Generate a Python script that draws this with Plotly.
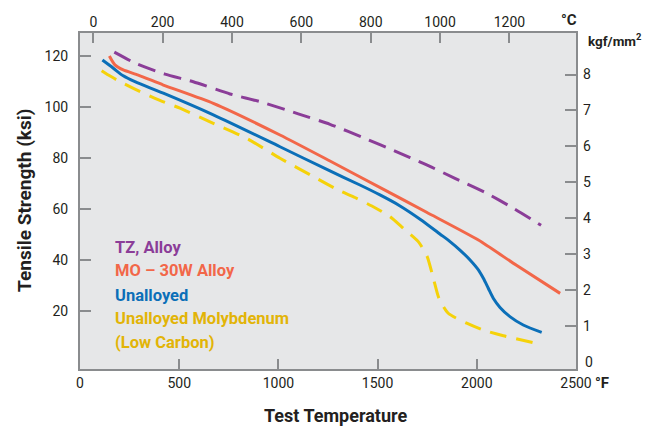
import plotly.graph_objects as go

# ---------------- data ----------------
tz_temp_f = [173, 286, 428, 571, 756, 907, 1100, 1260, 1436, 1588, 1739, 1890, 2041, 2184, 2324]
tz_ksi = [121.5, 116.9, 112.9, 109.9, 105.1, 102.1, 97.3, 93.2, 87.7, 82.7, 77.6, 72.0, 66.5, 60.3, 53.6]

mo30w_temp_f = [148, 176, 218, 294, 420, 672, 1008, 1260, 1537, 1747, 2008, 2200, 2420]
mo30w_ksi = [120.0, 116.5, 114.5, 112.5, 108.6, 101.4, 89.0, 78.8, 67.4, 58.7, 47.8, 37.9, 26.9]

unalloyed_temp_f = [113, 168, 218, 277, 420, 672, 1008, 1260, 1411, 1512, 1613, 1714, 1814, 1865, 1915,
                    1966, 2008, 2033, 2058, 2083, 2117, 2167, 2234, 2327]
unalloyed_ksi = [118.4, 115.2, 112.2, 109.9, 105.4, 96.9, 84.4, 74.9, 69.4, 65.5, 61.2, 56.0, 50.2, 47.2, 43.9,
                 40.0, 36.1, 32.8, 28.9, 25.0, 21.4, 17.8, 14.5, 11.6]

lowc_temp_f = [109, 143, 202, 269, 387, 504, 672, 840, 1008, 1176, 1310, 1386, 1487, 1562, 1630, 1705,
               1750, 1781, 1809, 1856, 1949, 2033, 2134, 2310]
lowc_ksi = [114.2, 112.5, 109.9, 107.3, 103.1, 99.5, 93.6, 87.7, 79.9, 72.7, 67.1, 64.5, 60.5, 57.0, 52.4,
            47.2, 41.3, 32.8, 25.0, 19.1, 15.2, 12.5, 10.3, 7.1]

series_names = ["TZ, Alloy", "MO \u2013 30W Alloy", "Unalloyed", "Unalloyed Molybdenum", "(Low Carbon)"]

f_ticks = [0, 500, 1000, 1500, 2000, 2500]
c_ticks = [0, 200, 400, 600, 800, 1000, 1200]
ksi_ticks = [20, 40, 60, 80, 100, 120]
kgf_ticks = [1, 2, 3, 4, 5, 6, 7, 8]

# ---------------- style ----------------
FONT = "Roboto, DejaVu Sans Condensed, sans-serif"
TXT = "#231f20"
AXC = "#8a8c8e"
PURPLE = "#8b3d98"
ORANGE = "#f26749"
BLUE = "#0b6fb8"
YELLOW = "#f5d20a"
YELLOW_TXT = "#e2b407"
PLOT_BG = "#e6e7e8"

fig = go.Figure()

fig.add_trace(go.Scatter(x=tz_temp_f, y=tz_ksi, mode="lines",
                         line=dict(color=PURPLE, width=3, dash="18px,9px", shape="spline", smoothing=0.6)))
fig.add_trace(go.Scatter(x=mo30w_temp_f, y=mo30w_ksi, mode="lines",
                         line=dict(color=ORANGE, width=3, shape="spline", smoothing=0.6)))
fig.add_trace(go.Scatter(x=unalloyed_temp_f, y=unalloyed_ksi, mode="lines",
                         line=dict(color=BLUE, width=3, shape="spline", smoothing=0.8)))
fig.add_trace(go.Scatter(x=lowc_temp_f, y=lowc_ksi, mode="lines",
                         line=dict(color=YELLOW, width=3, dash="17px,10px", shape="spline", smoothing=0.6)))

# invisible trace to activate the secondary (°C / kgf/mm²) axes
fig.add_trace(go.Scatter(x=[0], y=[0], xaxis="x2", yaxis="y2", mode="markers",
                         marker=dict(opacity=0), hoverinfo="skip"))

tickfont = dict(family=FONT, size=14, color=TXT)

common = dict(showgrid=False, zeroline=False, automargin=False, tickcolor=AXC, tickwidth=1.5,
              ticks="inside", tickfont=tickfont)

# the page body adds an 8px margin, so the figure is 8px smaller and margins shifted
fig.update_layout(
    width=645, height=421,
    margin=dict(l=72, r=77, t=25, b=60, autoexpand=False),
    paper_bgcolor="white",
    plot_bgcolor=PLOT_BG,
    showlegend=False,
    xaxis=dict(range=[0, 2500], tickvals=f_ticks, ticklen=10, showline=True, linecolor=AXC,
               linewidth=2, mirror=True, **common),
    yaxis=dict(range=[-2.75, 129.0], tickvals=ksi_ticks, ticklen=11, showline=True, linecolor=AXC,
               linewidth=2, mirror=True, ticklabelstandoff=7, **common),
    xaxis2=dict(range=[-38.4, 1392], tickvals=c_ticks, overlaying="x", side="top",
                ticklen=10, showline=False, ticklabelstandoff=2, **common),
    yaxis2=dict(range=[-0.203, 9.156], tickvals=kgf_ticks, overlaying="y", side="right",
                ticklen=11, showline=False, ticklabelstandoff=6, **common),
)

ann = []
legend_colors = [PURPLE, ORANGE, BLUE, YELLOW_TXT, YELLOW_TXT]
legend_y = [0.362, 0.292, 0.220, 0.149, 0.080]
for name, col, yy in zip(series_names, legend_colors, legend_y):
    ann.append(dict(text="<b>%s</b>" % name, x=0.066, y=yy, xref="paper", yref="paper",
                    xanchor="left", yanchor="middle", showarrow=False,
                    font=dict(family=FONT, size=16.5, color=col)))

ann.append(dict(text="<b>Test Temperature</b>", x=0.516, y=-0.137, xref="paper", yref="paper",
                xanchor="center", yanchor="middle", showarrow=False,
                font=dict(family=FONT, size=18, color=TXT)))
ann.append(dict(text="<b>Tensile Strength (ksi)</b>", x=-0.111, y=0.503, xref="paper", yref="paper",
                xanchor="center", yanchor="middle", showarrow=False, textangle=-90,
                font=dict(family=FONT, size=19, color=TXT)))
ann.append(dict(text="<b>kgf/mm<sup>2</sup></b>", x=1.078, y=0.979, xref="paper", yref="paper",
                xanchor="center", yanchor="middle", showarrow=False,
                font=dict(family=FONT, size=13.5, color=TXT)))
ann.append(dict(text="<b>\u00b0C</b>", x=0.986, y=1.039, xref="paper", yref="paper",
                xanchor="center", yanchor="middle", showarrow=False,
                font=dict(family=FONT, size=15, color=TXT)))
ann.append(dict(text="<b>\u00b0F</b>", x=1.052, y=-0.042, xref="paper", yref="paper",
                xanchor="center", yanchor="middle", showarrow=False,
                font=dict(family=FONT, size=15, color=TXT)))
ann.append(dict(text="0", x=1.0, y=0, xref="paper", yref="y2",
                xanchor="left", yanchor="middle", xshift=7, showarrow=False,
                font=tickfont))

fig.update_layout(annotations=ann)

fig.write_html("out.html")
